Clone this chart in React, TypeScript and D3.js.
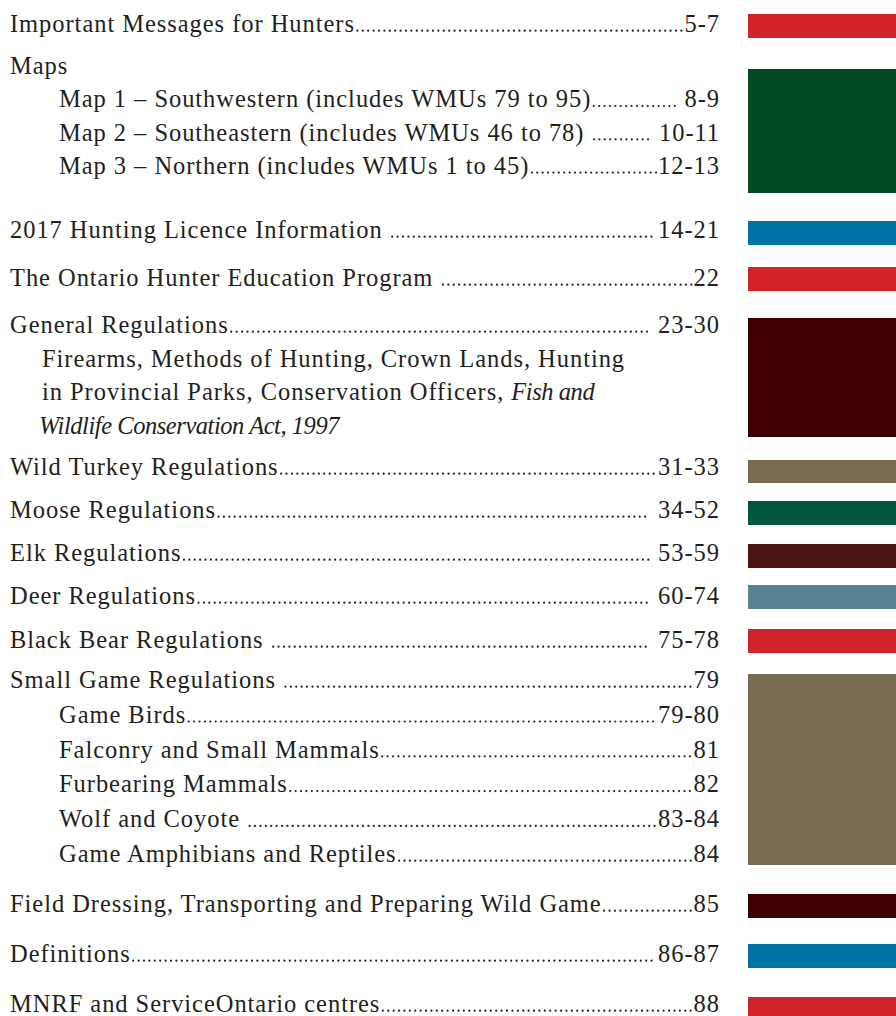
import React, { useEffect, useRef } from "react";
import * as d3 from "d3";

// ---- Content (table of contents) ----
const sectionTitles = [
  "Important Messages for Hunters",
  "Maps",
  "2017 Hunting Licence Information ",
  "The Ontario Hunter Education Program ",
  "General Regulations",
  "Wild Turkey Regulations",
  "Moose Regulations",
  "Elk Regulations",
  "Deer Regulations",
  "Black Bear Regulations ",
  "Small Game Regulations ",
  "Field Dressing, Transporting and Preparing Wild Game",
  "Definitions",
  "MNRF and ServiceOntario centres",
];
const sectionPages = ["5-7", "", "14-21", "22", " 23-30", "31-33", " 34-52", " 53-59", " 60-74", " 75-78", "79", "85", "86-87", "88"];
const sectionColors = [
  "#D2232A", "#024A24", "#0073A4", "#D2232A", "#3F0002", "#786C50", "#00573D",
  "#4A1314", "#578294", "#D2232A", "#786C50", "#3F0002", "#0073A4", "#D2232A",
];

const mapItems = [
  "Map 1 – Southwestern (includes WMUs 79 to 95)",
  "Map 2 – Southeastern (includes WMUs 46 to 78) ",
  "Map 3 – Northern (includes WMUs 1 to 45)",
];
const mapPages = [" 8-9", " 10-11", "12-13"];

const generalNotes: { text: string; italic: boolean }[][] = [
  [{ text: "Firearms, Methods of Hunting, Crown Lands, Hunting", italic: false }],
  [
    { text: "in Provincial Parks, Conservation Officers, ", italic: false },
    { text: "Fish and", italic: true },
  ],
  [{ text: "Wildlife Conservation Act, 1997", italic: true }],
];

const smallGameItems = [
  "Game Birds",
  "Falconry and Small Mammals",
  "Furbearing Mammals",
  "Wolf and Coyote ",
  "Game Amphibians and Reptiles",
];
const smallGamePages = ["79-80", "81", "82", "83-84", "84"];

// ---- Layout ----
const W = 896;
const H = 1016;
const barTops = [14, 69, 221, 267, 318, 460, 501, 544, 585, 629, 674, 894, 944, 997];
const barBottoms = [38, 193, 245, 291, 437, 483, 525, 568, 609, 653, 865, 918, 968, 1030];
const firstBaselines = [32, 74, 238, 286, 333, 475, 518, 561, 604, 648, 688, 912, 962, 1012];
const subSteps: Record<number, number> = { 1: 33.3, 4: 33.5, 10: 34.8 };

const FONT = "'Liberation Serif', 'Times New Roman', serif";
const FS = 24.5;
const LS = 0.95;
const LS_ITALIC = -0.45;
const INK = "#231F20";
const X0 = 10;
const X_SUB = 59;
const X_NOTE = 42;
const X_PAGE = 720;
const BAR_X = 748;
const DOT_STEP = 5.4;

export default function App() {
  const ref = useRef<SVGSVGElement | null>(null);

  useEffect(() => {
    const svg = d3.select(ref.current);
    svg.selectAll("*").remove();

    // colour bars
    svg
      .append("g")
      .selectAll("rect")
      .data(sectionColors)
      .join("rect")
      .attr("x", BAR_X)
      .attr("y", (_, i) => barTops[i])
      .attr("width", W - BAR_X)
      .attr("height", (_, i) => Math.min(H, barBottoms[i]) - barTops[i])
      .attr("fill", (d) => d);

    const g = svg.append("g");

    const textStyle = (sel: any) =>
      sel
        .attr("font-family", FONT)
        .attr("font-size", FS)
        .attr("letter-spacing", LS)
        .attr("fill", INK)
        .style("white-space", "pre");

    const leaderRow = (label: string, page: string, x: number, y: number) => {
      const t = g.append("text").attr("x", x).attr("y", y).text(label).call(textStyle);
      const labelEnd = x + (t.node() as SVGTextElement).getComputedTextLength();
      if (!page) return;
      const p = g
        .append("text")
        .attr("x", X_PAGE)
        .attr("y", y)
        .attr("text-anchor", "end")
        .text(page)
        .call(textStyle);
      const pw = (p.node() as SVGTextElement).getComputedTextLength();
      const start = labelEnd + 1.5;
      const end = X_PAGE - pw - 3;
      const xs = d3.range(start, end, DOT_STEP);
      g.append("g")
        .selectAll("circle")
        .data(xs)
        .join("circle")
        .attr("cx", (d) => d + 1)
        .attr("cy", y - 1.3)
        .attr("r", 1.1)
        .attr("fill", INK);
    };

    sectionTitles.forEach((title, i) => {
      const y0 = firstBaselines[i];
      const step = subSteps[i] || 0;
      leaderRow(title, sectionPages[i], X0, y0);
      if (i === 1) {
        mapItems.forEach((m, j) => leaderRow(m, mapPages[j], X_SUB, y0 + step * (j + 1)));
      }
      if (i === 4) {
        generalNotes.forEach((line, j) => {
          const t = g
            .append("text")
            .attr("x", j === 2 ? X_NOTE - 3 : X_NOTE)
            .attr("y", y0 + step * (j + 1))
            .call(textStyle);
          line.forEach((seg) => {
            t.append("tspan")
              .attr("font-style", seg.italic ? "italic" : "normal")
              .attr("letter-spacing", seg.italic ? LS_ITALIC : LS)
              .text(seg.text);
          });
        });
      }
      if (i === 10) {
        smallGameItems.forEach((s, j) => leaderRow(s, smallGamePages[j], X_SUB, y0 + step * (j + 1)));
      }
    });
  }, []);

  return (
    <div style={{ position: "absolute", left: 0, top: 0, width: W, height: H, background: "#fff" }}>
      <svg ref={ref} width={W} height={H} style={{ display: "block" }} />
    </div>
  );
}
